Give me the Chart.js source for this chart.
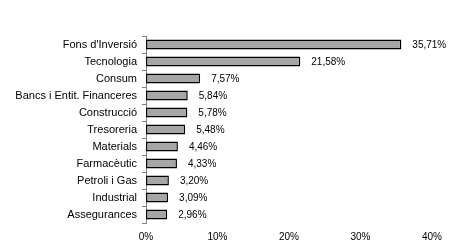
<!DOCTYPE html>
<html>
<head>
<meta charset="utf-8">
<script src="https://cdn.jsdelivr.net/npm/chart.js@4"></script>
<style>
  html, body { margin: 0; padding: 0; background: #fff; }
  #wrap { width: 452px; height: 241px; position: relative; }
</style>
</head>
<body>
<div id="wrap"><canvas id="chart"></canvas></div>
<script>
const categories = [
  "Fons d'Inversió", "Tecnologia", "Consum", "Bancs i Entit. Financeres",
  "Construcció", "Tresoreria", "Materials", "Farmacèutic",
  "Petroli i Gas", "Industrial", "Assegurances"
];
const values = [35.71, 21.58, 7.57, 5.84, 5.78, 5.48, 4.46, 4.33, 3.20, 3.09, 2.96];
const xTicks = [0, 10, 20, 30, 40];

const fontFamily = "'Liberation Sans', Arial, sans-serif";

// value labels to the right of each bar, comma decimals
const valueLabels = {
  id: "valueLabels",
  afterDatasetsDraw(chart) {
    const { ctx } = chart;
    const meta = chart.getDatasetMeta(0);
    ctx.save();
    ctx.font = "10px " + fontFamily;
    ctx.fillStyle = "#000";
    ctx.textBaseline = "middle";
    meta.data.forEach((bar, i) => {
      const text = values[i].toFixed(2).replace(".", ",") + "%";
      ctx.fillText(text, bar.x + 11, bar.y + 1);
    });
    ctx.restore();
  }
};

new Chart(document.getElementById("chart"), {
  type: "bar",
  data: {
    labels: categories,
    datasets: [{
      data: values,
      backgroundColor: "#a6a6a6",
      borderColor: "#000",
      borderWidth: 1.5,
      borderSkipped: false,
      categoryPercentage: 1,
      barPercentage: 0.6
    }]
  },
  options: {
    indexAxis: "y",
    responsive: true,
    maintainAspectRatio: false,
    animation: false,
    layout: { padding: { top: 36, right: 20, bottom: 0, left: 0 } },
    plugins: { legend: { display: false }, tooltip: { enabled: false } },
    scales: {
      x: {
        min: 0,
        max: 40,
        afterBuildTicks: (axis) => { axis.ticks = xTicks.map((v) => ({ value: v })); },
        grid: { display: false },
        border: { display: false },
        ticks: {
          color: "#000",
          font: { family: fontFamily, size: 10 },
          padding: 0,
          callback: (v) => v + "%"
        },
        afterFit: (axis) => { axis.height = 18; }
      },
      y: {
        offset: true,
        grid: { offset: true, drawOnChartArea: false, tickLength: 4, color: "#808080" },
        border: { display: true, color: "#808080" },
        ticks: {
          color: "#000",
          font: { family: fontFamily, size: 11 },
          padding: 5
        },
        afterFit: (axis) => { axis.width = 146; }
      }
    }
  },
  plugins: [valueLabels]
});
</script>
</body>
</html>
